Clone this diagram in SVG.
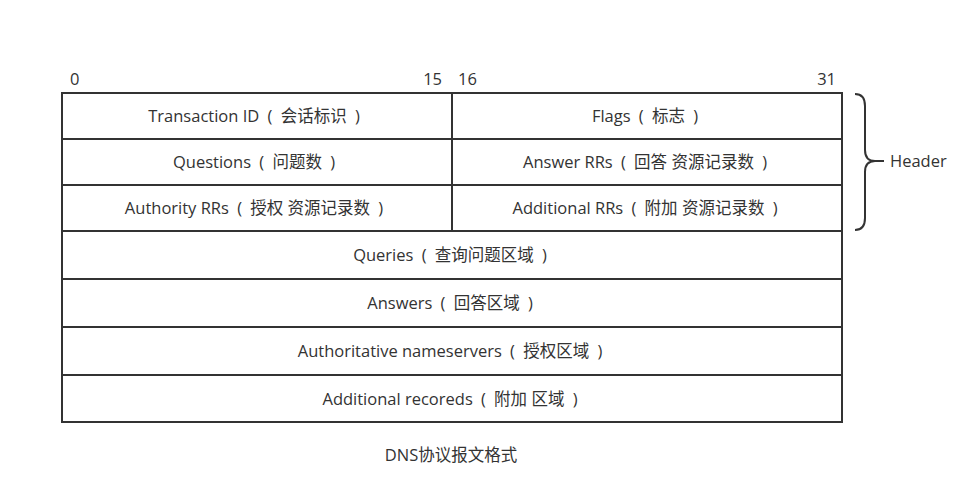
<svg xmlns="http://www.w3.org/2000/svg" width="963" height="495" viewBox="0 0 963 495">
<style>
text{font-family:"Open Sans","Noto Sans","Noto Sans CJK SC",sans-serif;font-size:16.5px;fill:#333}
.c{text-anchor:middle}
.box{fill:#fff;stroke:#333;stroke-width:2}
</style>
<rect width="963" height="495" fill="#fff"/>
<g id="bits">
<text x="70" y="85">0</text>
<text x="442" y="85" text-anchor="end">15</text>
<text x="458" y="85">16</text>
<text x="836" y="85" text-anchor="end">31</text>
</g>
<g id="transaction-id"><rect class="box" x="62" y="93" width="390" height="46"/><text class="c" x="254" y="122">Transaction ID&#8194;(&#8194;会话标识&#8194;)</text></g>
<g id="flags"><rect class="box" x="452" y="93" width="390" height="46"/><text class="c" x="645" y="122">Flags&#8194;(&#8194;标志&#8194;)</text></g>
<g id="questions"><rect class="box" x="62" y="139" width="390" height="46"/><text class="c" x="254" y="168">Questions&#8194;(&#8194;问题数&#8194;)</text></g>
<g id="answer-rrs"><rect class="box" x="452" y="139" width="390" height="46"/><text class="c" x="645" y="168">Answer RRs&#8194;(&#8194;回答 资源记录数&#8194;)</text></g>
<g id="authority-rrs"><rect class="box" x="62" y="185" width="390" height="46"/><text class="c" x="254" y="214">Authority RRs&#8194;(&#8194;授权 资源记录数&#8194;)</text></g>
<g id="additional-rrs"><rect class="box" x="452" y="185" width="390" height="46"/><text class="c" x="645" y="214">Additional RRs&#8194;(&#8194;附加 资源记录数&#8194;)</text></g>
<g id="queries"><rect class="box" x="62" y="231" width="780" height="48"/><text class="c" x="450" y="261">Queries&#8194;(&#8194;查询问题区域&#8194;)</text></g>
<g id="answers"><rect class="box" x="62" y="279" width="780" height="48"/><text class="c" x="450" y="309">Answers&#8194;(&#8194;回答区域&#8194;)</text></g>
<g id="authoritative"><rect class="box" x="62" y="327" width="780" height="48"/><text class="c" x="450" y="357">Authoritative nameservers&#8194;(&#8194;授权区域&#8194;)</text></g>
<g id="additional"><rect class="box" x="62" y="375" width="780" height="47"/><text class="c" x="450" y="405">Additional recoreds&#8194;(&#8194;附加 区域&#8194;)</text></g>
<g id="connectors">
<path d="M855 94 Q865 94 865 106 L865 150 Q865 161 875 161 L884 161 M875 161 Q865 161 865 172 L865 218 Q865 230 855 230" fill="none" stroke="#333" stroke-width="2"/>
</g>
<g id="header-label"><text x="890" y="167">Header</text></g>
<g id="caption"><text x="451" y="461" text-anchor="middle">DNS协议报文格式</text></g>
</svg>
